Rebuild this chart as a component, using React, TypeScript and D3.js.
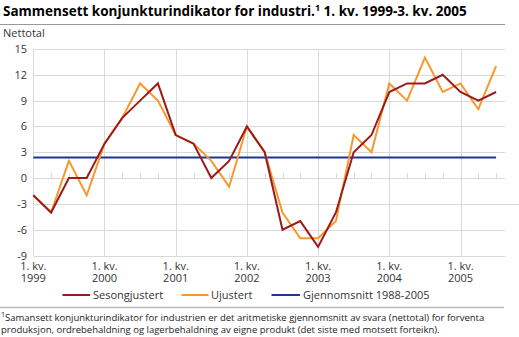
import React from "react";
import * as d3 from "d3";

const quarters = d3.range(27);
const sesongjustert = [-2, -4, 0, 0, 4, 7, 9, 11, 5, 4, 0, 2, 6, 3, -6, -5, -8, -4, 3, 5, 10, 11, 11, 12, 10, 9, 10];
const ujustert = [-2, -4, 2, -2, 4, 7, 11, 9, 5, 4, 2, -1, 6, 3, -4, -7, -7, -5, 5, 3, 11, 9, 14, 10, 11, 8, 13];
const gjennomsnitt = 2.4;
const yTicks = [-9, -6, -3, 0, 3, 6, 9, 12, 15];
const yearLabels = ["1999", "2000", "2001", "2002", "2003", "2004", "2005"];

const W = 519, H = 337;
const FONT = "'Open Sans', 'DejaVu Sans', sans-serif";
const RED = "#9b1b1b", ORANGE = "#f7982f", BLUE = "#1c3790", GRID = "#d9d9d9";

export default function App() {
  const x = d3.scaleLinear().domain([0, 26.5]).range([33.3, 505]);
  const y = d3.scaleLinear().domain([-9, 15]).range([255.5, 49]);
  const line = d3.line<number>().x((_, i) => x(i)).y((d) => y(d));
  const yearIdx = yearLabels.map((_, i) => i * 4);

  return (
    <svg width={W} height={H} style={{ position: "absolute", left: 0, top: 0 }} fontFamily={FONT}>
      <rect width={W} height={H} fill="#fff" />
      <text x={3} y={16} fontSize={13.5} fontWeight="bold" fill="#000">
        Sammensett konjunkturindikator for industri.<tspan fontSize={9} dy={-5}>1</tspan>
        <tspan dy={5}> 1. kv. 1999-3. kv. 2005</tspan>
      </text>
      <line x1={0} x2={505} y1={24.5} y2={24.5} stroke="#999" strokeWidth={1} />
      <text x={3} y={37} fontSize={11} fill="#333">Nettotal</text>

      {yTicks.map((t) => (
        <g key={t}>
          <line x1={x(0)} x2={t === -3 ? 519 : 505} y1={Math.round(y(t)) + 0.5} y2={Math.round(y(t)) + 0.5} stroke={GRID} strokeWidth={1} />
          <text x={27} y={y(t) + 4} fontSize={11} textAnchor="end" fill="#333">{t}</text>
        </g>
      ))}
      {yearIdx.map((q, i) => (
        <g key={q}>
          <line x1={Math.round(x(q)) + 0.5} x2={Math.round(x(q)) + 0.5} y1={y(15)} y2={y(-9)} stroke={GRID} strokeWidth={1} />
          <text x={x(q)} y={270} fontSize={11} textAnchor="middle" fill="#333">1. kv.</text>
          <text x={x(q)} y={282} fontSize={11} textAnchor="middle" fill="#333">{yearLabels[i]}</text>
        </g>
      ))}
      {quarters.map((q) => (
        <line key={q} x1={Math.round(x(q)) + 0.5} x2={Math.round(x(q)) + 0.5} y1={y(0) - 5} y2={y(0)} stroke={GRID} strokeWidth={1} />
      ))}

      <line x1={x(0)} x2={x(26)} y1={y(gjennomsnitt)} y2={y(gjennomsnitt)} stroke={BLUE} strokeWidth={2} />
      <path d={line(ujustert) || ""} fill="none" stroke={ORANGE} strokeWidth={2} strokeLinejoin="miter" />
      <path d={line(sesongjustert) || ""} fill="none" stroke={RED} strokeWidth={2} strokeLinejoin="miter" />

      <g fontSize={11} fill="#333">
        <line x1={62.5} x2={90} y1={295} y2={295} stroke={RED} strokeWidth={2} />
        <text x={93} y={299}>Sesongjustert</text>
        <line x1={181.5} x2={208.5} y1={295} y2={295} stroke={ORANGE} strokeWidth={2} />
        <text x={211} y={299}>Ujustert</text>
        <line x1={271.5} x2={300} y1={295} y2={295} stroke={BLUE} strokeWidth={2} />
        <text x={303} y={299}>Gjennomsnitt 1988-2005</text>
      </g>
      <line x1={0} x2={504} y1={307.5} y2={307.5} stroke="#bbb" strokeWidth={1.5} />
      <text x={1} y={320.5} fontSize={9.5} fill="#222">
        <tspan fontSize={7} dy={-4}>1</tspan>
        <tspan dy={4}>Samansett konjunkturindikator for industrien er det aritmetiske gjennomsnitt av svara (nettotal) for forventa</tspan>
      </text>
      <text x={1} y={332.5} fontSize={9.5} fill="#222">
        produksjon, ordrebehaldning og lagerbehaldning av eigne produkt (det siste med motsett forteikn).
      </text>
    </svg>
  );
}
